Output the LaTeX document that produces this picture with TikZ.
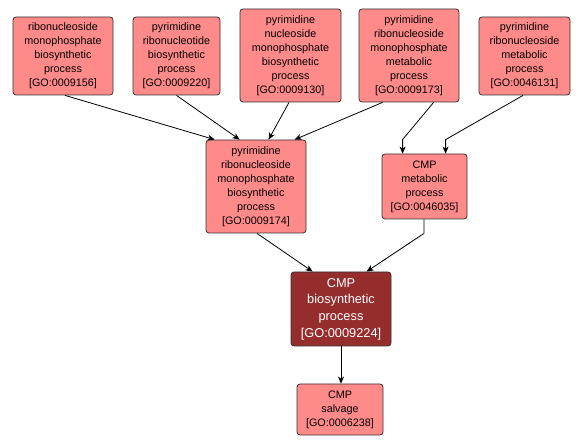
\documentclass[tikz,border=0pt]{standalone}
\usepackage{fontspec}
\setmainfont{Liberation Sans}
\usetikzlibrary{arrows.meta,calc}
\definecolor{boxfill}{RGB}{255,138,138}
\definecolor{darkfill}{RGB}{150,45,45}
\begin{document}
\begin{tikzpicture}[x=1pt,y=-1pt,
  gobox/.style={draw=black!80,line width=0.8pt,rounded corners=3pt,fill=boxfill,
    align=center,inner sep=0pt,font=\fontsize{10.8}{14}\selectfont},
  hibox/.style={gobox,fill=darkfill,text=white,font=\fontsize{12.8}{16.7}\selectfont},
  edge/.style={line width=0.8pt,-{Stealth[length=7pt,width=6pt,inset=2pt]}}]
\useasboundingbox (0,0) rectangle (584,446);
\node[gobox,minimum width=100pt,minimum height=78pt] (A) at (63,56) {ribonucleoside\\monophosphate\\biosynthetic\\process\\{[}GO:0009156{]}};
\node[gobox,minimum width=87pt,minimum height=78pt] (B) at (176.5,56) {pyrimidine\\ribonucleotide\\biosynthetic\\process\\{[}GO:0009220{]}};
\node[gobox,minimum width=101pt,minimum height=93pt] (C) at (290.5,55.5) {pyrimidine\\nucleoside\\monophosphate\\biosynthetic\\process\\{[}GO:0009130{]}};
\node[gobox,minimum width=100pt,minimum height=93pt] (D) at (409,55.5) {pyrimidine\\ribonucleoside\\monophosphate\\metabolic\\process\\{[}GO:0009173{]}};
\node[gobox,minimum width=91pt,minimum height=78pt] (E) at (524.5,56) {pyrimidine\\ribonucleoside\\metabolic\\process\\{[}GO:0046131{]}};
\node[gobox,minimum width=100pt,minimum height=93pt] (F) at (256,186.5) {pyrimidine\\ribonucleoside\\monophosphate\\biosynthetic\\process\\{[}GO:0009174{]}};
\node[gobox,minimum width=85pt,minimum height=65pt] (G) at (424.5,186.5) {CMP\\metabolic\\process\\{[}GO:0046035{]}};
\node[hibox,minimum width=100pt,minimum height=74pt] (H) at (341,309) {CMP\\biosynthetic\\process\\{[}GO:0009224{]}};
\node[gobox,minimum width=86pt,minimum height=51pt] (I) at (340,409.5) {CMP\\salvage\\{[}GO:0006238{]}};

\draw[edge] ($(A.south)+(2,0)$) -- ($(F.north west)+(9,0)$);
\draw[edge] (B.south) -- ($(F.north west)+(34,0)$);
\draw[edge] ($(C.south)+(-1.5,0)$) -- ($(F.north west)+(63,0)$);
\draw[edge] ($(D.south west)+(24,0)$) -- ($(F.north west)+(89,0)$);
\draw[edge] ($(D.south west)+(75,0)$) -- ($(G.north west)+(21,-14)$) -- ($(G.north west)+(21,0)$);
\draw[edge] ($(E.south)+(-1.5,0)$) -- ($(G.north west)+(64,-14)$) -- ($(G.north west)+(64,0)$);
\draw[edge] ($(F.south)+(1,0)$) -- ($(H.north west)+(22,0)$);
\draw[edge] ($(G.south)+(-0.5,0)$) -- ($(G.south)+(-0.5,14)$) -- ($(H.north west)+(76,0)$);
\draw[edge] (H.south) -- ($(I.north)+(1,0)$);
\end{tikzpicture}
\end{document}
